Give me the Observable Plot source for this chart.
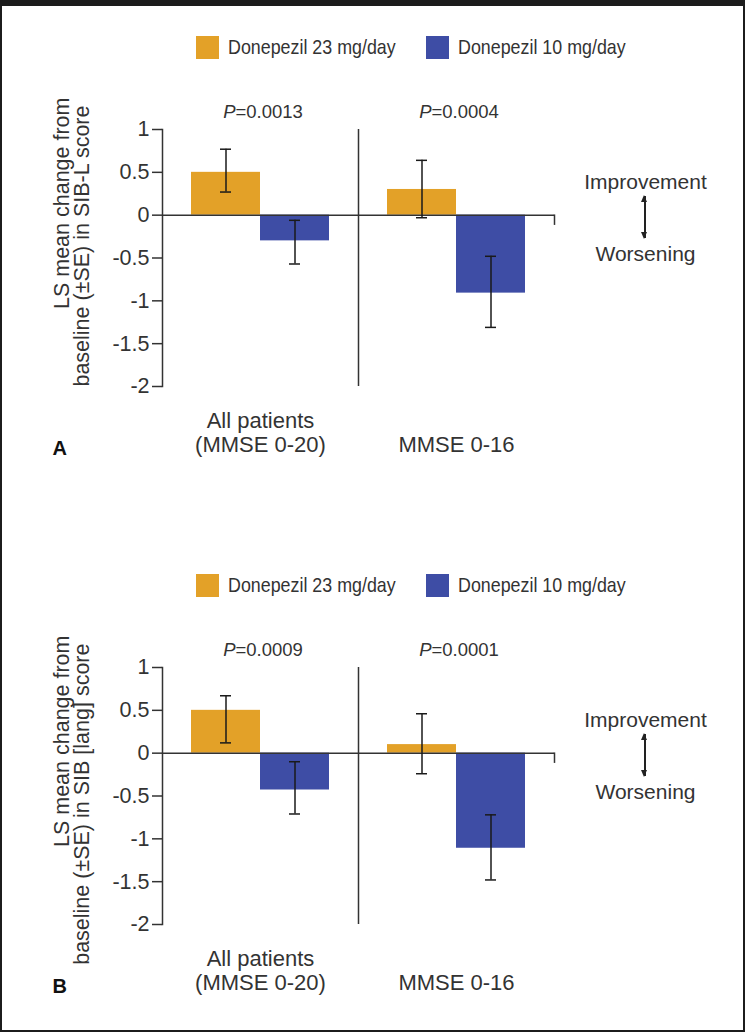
<!DOCTYPE html>
<html>
<head>
<meta charset="utf-8">
<script src="https://cdn.jsdelivr.net/npm/d3@7"></script>
<script src="https://cdn.jsdelivr.net/npm/@observablehq/plot@0.6"></script>
<style>
  html, body { margin: 0; padding: 0; background: #fff; }
  body { position: relative; width: 745px; height: 1032px; overflow: hidden;
         font-family: "Liberation Sans", Arial, sans-serif; color: #333; }
  #border { position: absolute; left: 0; top: 0; width: 745px; height: 1032px; box-sizing: border-box;
            border: 2px solid #1c1c1c; border-top-width: 6px; pointer-events: none; z-index: 10; }
  .panel { position: absolute; left: 0; width: 745px; height: 520px; }
  .chart { position: absolute; left: 0; top: 80px; }
  .legend-item { position: absolute; top: 35px; height: 24px; display: flex; align-items: center; white-space: nowrap; }
  .swatch { width: 23px; height: 23px; margin-right: 9px; flex: none; }
  .legend-text { font-size: 21px; color: #333; display: inline-block; transform: scaleX(0.85); transform-origin: left center; }
  .arrow { position: absolute; left: 644px; width: 1.6px; background: #222; }
  .arrow::before, .arrow::after { content: ""; position: absolute; left: -2.7px; border-left: 3.5px solid transparent; border-right: 3.5px solid transparent; }
  .arrow::before { top: -1px; border-bottom: 7px solid #222; }
  .arrow::after { bottom: -1px; border-top: 7px solid #222; }
</style>
</head>
<body>
<div id="border"></div>
<div id="panelA" class="panel" style="top:0px"></div>
<div id="panelB" class="panel" style="top:538px"></div>
<script>
// ---------- data ----------
const groups = ["All patients (MMSE 0-20)", "MMSE 0-16"];
const groupLine1 = ["All patients", ""];
const groupLine2 = ["(MMSE 0-20)", "MMSE 0-16"];
const treatments = ["Donepezil 23 mg/day", "Donepezil 10 mg/day"];
const colors = ["#E3A128", "#3E4DA5"];

const yDomain = [-2, 1];
const yTicks = [1, 0.5, 0, -0.5, -1, -1.5, -2];
const yTickLabels = ["1", "0.5", "0", "-0.5", "-1", "-1.5", "-2"];

// Panel A (SIB-L)
const meanA23 = [0.50, 0.30];
const loA23   = [0.27, -0.03];
const hiA23   = [0.77, 0.64];
const meanA10 = [-0.30, -0.91];
const loA10   = [-0.57, -1.31];
const hiA10   = [-0.06, -0.48];
const pValuesA = ["=0.0013", "=0.0004"];
const yLabelA = ["LS mean change from", "baseline (\u00b1SE) in SIB-L score"];

// Panel B (SIB [lang])
const meanB23 = [0.50, 0.10];
const loB23   = [0.12, -0.24];
const hiB23   = [0.67, 0.46];
const meanB10 = [-0.43, -1.11];
const loB10   = [-0.71, -1.48];
const hiB10   = [-0.10, -0.72];
const pValuesB = ["=0.0009", "=0.0001"];
const yLabelB = ["LS mean change from", "baseline (\u00b1SE) in SIB [lang] score"];

const direction = ["Improvement", "Worsening"];

// ---------- drawing ----------
function buildRows(m23, l23, h23, m10, l10, h10) {
  const rows = [];
  groups.forEach((g, i) => {
    rows.push({group: g, treatment: treatments[0], value: m23[i], lo: l23[i], hi: h23[i]});
    rows.push({group: g, treatment: treatments[1], value: m10[i], lo: l10[i], hi: h10[i]});
  });
  return rows;
}

function drawPanel(el, letter, rows, pValues, yLabel) {
  const lefts = [196, 426];
  treatments.forEach((t, i) => {
    const item = document.createElement("div");
    item.className = "legend-item";
    item.style.left = lefts[i] + "px";
    item.innerHTML = `<div class="swatch" style="background:${colors[i]}"></div><span class="legend-text">${t}</span>`;
    el.appendChild(item);
  });

  const textColor = "#333";
  const lineColor = "#333";
  const W = 745, H = 400, mT = 49, mB = 94;
  const innerH = H - mT - mB;
  // position of the zero baseline inside the frame (for the small end tick of the x axis)
  const zeroFromTop = innerH * (yDomain[1] - 0) / (yDomain[1] - yDomain[0]);
  const tickLen = 9;

  const plot = Plot.plot({
    width: W,
    height: H,
    marginLeft: 162,
    marginRight: 191,
    marginTop: mT,
    marginBottom: mB,
    style: {fontFamily: "'Liberation Sans', Arial, sans-serif", fontSize: "21.5px", color: textColor, background: "transparent", overflow: "visible"},
    fx: {domain: groups, padding: 0, axis: null},
    x: {domain: treatments, paddingInner: 0, paddingOuter: 0.41, axis: null},
    y: {domain: yDomain, axis: null},
    color: {domain: treatments, range: colors},
    marks: [
      Plot.barY(rows, {fx: "group", x: "treatment", y: "value", fill: "treatment"}),
      Plot.ruleY([0], {stroke: lineColor, strokeWidth: 1.5}),
      Plot.ruleX(rows, {fx: "group", x: "treatment", y1: "lo", y2: "hi", stroke: "#1a1a1a", strokeWidth: 1.5}),
      Plot.tickY(rows, {fx: "group", x: "treatment", y: "lo", stroke: "#1a1a1a", strokeWidth: 1.5, insetLeft: 29, insetRight: 29}),
      Plot.tickY(rows, {fx: "group", x: "treatment", y: "hi", stroke: "#1a1a1a", strokeWidth: 1.5, insetLeft: 29, insetRight: 29}),
      Plot.axisY({ticks: yTicks, tickFormat: (d) => yTickLabels[yTicks.indexOf(d)], tickSize: 10, tickPadding: 3,
                  label: null, stroke: lineColor, strokeWidth: 1.5, fontSize: 21.5, fill: textColor}),
      // y axis line (left edge of the whole frame)
      Plot.frame({anchor: "left", facet: "super", stroke: lineColor, strokeWidth: 1.5}),
      // small tick at the right end of the zero axis
      Plot.frame({anchor: "right", facet: "super", stroke: lineColor, strokeWidth: 1.5,
                  insetTop: zeroFromTop, insetBottom: innerH - zeroFromTop - tickLen}),
      // vertical divider between the two patient groups: centre of the whole frame, full frame height (y 1 to -2)
      Plot.ruleX([groups[1]], {facet: "super", x: null, stroke: lineColor, strokeWidth: 1.5}),
      Plot.text(groups, {fx: (d) => d, text: () => "P", frameAnchor: "top", dy: -12, dx: -25, textAnchor: "end",
                         lineAnchor: "bottom", fontStyle: "italic", fontSize: 18.5, fill: textColor}),
      Plot.text(groups, {fx: (d) => d, text: (d, i) => pValues[i], frameAnchor: "top", dy: -12, dx: -25, textAnchor: "start",
                         lineAnchor: "bottom", fontSize: 18.5, fill: textColor}),
      Plot.text(groups, {fx: (d) => d, text: (d, i) => groupLine1[i], frameAnchor: "bottom", dy: 41,
                         lineAnchor: "bottom", fontSize: 22, fill: textColor}),
      Plot.text(groups, {fx: (d) => d, text: (d, i) => groupLine2[i], frameAnchor: "bottom", dy: 65,
                         lineAnchor: "bottom", fontSize: 22, fill: textColor}),
      Plot.text([yLabel[0]], {fx: () => groups[0], text: (d) => d, frameAnchor: "left", rotate: -90, dx: -94, dy: -160.5,
                              textAnchor: "end", lineAnchor: "bottom", fontSize: 21.5, fill: textColor}),
      Plot.text([yLabel[1]], {fx: () => groups[0], text: (d) => d, frameAnchor: "left", rotate: -90, dx: -74, dy: -152.5,
                              textAnchor: "end", lineAnchor: "bottom", fontSize: 21.5, fill: textColor}),
      Plot.text([direction[0]], {fx: () => groups[1], text: (d) => d, frameAnchor: "right", dx: 91, dy: -69.5,
                                 textAnchor: "middle", lineAnchor: "bottom", fontSize: 21, fill: textColor}),
      Plot.text([direction[1]], {fx: () => groups[1], text: (d) => d, frameAnchor: "right", dx: 91, dy: 2.5,
                                 textAnchor: "middle", lineAnchor: "bottom", fontSize: 21, fill: textColor}),
      Plot.text([letter], {fx: () => groups[0], text: (d) => d, frameAnchor: "bottom-left", dx: -110, dy: 68,
                           textAnchor: "start", lineAnchor: "bottom", fontSize: 20, fontWeight: "bold", fill: "#111"})
    ]
  });
  const wrap = document.createElement("div");
  wrap.className = "chart";
  wrap.appendChild(plot);
  el.appendChild(wrap);

  const arrow = document.createElement("div");
  arrow.className = "arrow";
  arrow.style.top = "196px";
  arrow.style.height = "42px";
  el.appendChild(arrow);
}

drawPanel(document.getElementById("panelA"), "A",
  buildRows(meanA23, loA23, hiA23, meanA10, loA10, hiA10), pValuesA, yLabelA);
drawPanel(document.getElementById("panelB"), "B",
  buildRows(meanB23, loB23, hiB23, meanB10, loB10, hiB10), pValuesB, yLabelB);
</script>
</body>
</html>
